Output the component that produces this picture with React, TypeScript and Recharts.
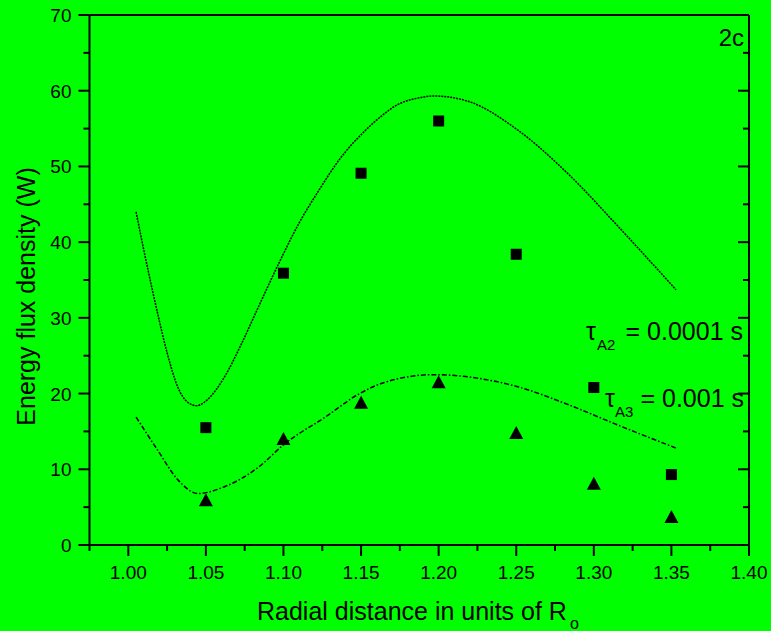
import { ComposedChart, XAxis, YAxis, Line, Scatter } from "recharts";

// sample positions (units of R_o) and measured values
const pointX = [1.05, 1.1, 1.15, 1.2, 1.25, 1.3, 1.35];
const squareY = [15.5, 35.9, 49.1, 56.0, 38.4, 20.8, 9.3];
const triangleY = [5.9, 14.0, 18.8, 21.5, 14.8, 8.1, 3.7];

// fitted curves, tau_A2 (dotted) and tau_A3 (dash-dot)
const upperCurveX = [1.005, 1.012, 1.019, 1.025, 1.032, 1.038, 1.044, 1.051, 1.062, 1.073, 1.084, 1.097, 1.11, 1.123, 1.136, 1.153, 1.164, 1.173, 1.186, 1.197, 1.219, 1.251, 1.284, 1.316, 1.353];
const upperCurveY = [44.0, 37.0, 30.5, 25.4, 20.8, 18.9, 18.4, 19.2, 22.2, 26.6, 31.5, 37.2, 42.5, 46.9, 50.9, 54.8, 56.8, 58.1, 59.0, 59.3, 58.6, 54.8, 48.9, 42.0, 33.7];
const lowerCurveX = [1.005, 1.019, 1.032, 1.045, 1.062, 1.084, 1.101, 1.127, 1.149, 1.164, 1.197, 1.219, 1.251, 1.284, 1.316, 1.353];
const lowerCurveY = [16.9, 12.5, 8.6, 6.8, 7.7, 10.3, 13.4, 16.9, 20.0, 21.4, 22.5, 22.2, 20.9, 18.5, 15.8, 12.8];

const xMajor = [1.0, 1.05, 1.1, 1.15, 1.2, 1.25, 1.3, 1.35, 1.4];
const xMinor = [0.975, 1.025, 1.075, 1.125, 1.175, 1.225, 1.275, 1.325, 1.375];
const yMajor = [0, 10, 20, 30, 40, 50, 60, 70];
const yMinor = [5, 15, 25, 35, 45, 55, 65];

const squares = pointX.map((x, i) => ({ x, y: squareY[i] }));
const triangles = pointX.map((x, i) => ({ x, y: triangleY[i] }));
const upperCurve = upperCurveX.map((x, i) => ({ x, y: upperCurveY[i] }));
const lowerCurve = lowerCurveX.map((x, i) => ({ x, y: lowerCurveY[i] }));
const xTicks = [...xMajor, ...xMinor].sort((a, b) => a - b);
const yTicks = [...yMajor, ...yMinor].sort((a, b) => a - b);

const FONT = "'Liberation Sans', Arial, sans-serif";
const isMajor = (list: number[], v: number) => list.some((m) => Math.abs(m - v) < 1e-6);

function BottomTick({ x, y, payload }: any) {
  const major = isMajor(xMajor, payload.value);
  return (
    <g>
      <line x1={x} y1={y} x2={x} y2={y + (major ? 11 : 6)} stroke="#000" strokeWidth={2} />
      {major && (
        <text x={x} y={y + 34} textAnchor="middle" fontSize={19} fill="#000" style={{ fontFamily: FONT }}>
          {payload.value.toFixed(2)}
        </text>
      )}
    </g>
  );
}

function TopTick({ x, y, payload }: any) {
  const major = isMajor(xMajor, payload.value);
  return <line x1={x} y1={y} x2={x} y2={y + (major ? 11 : 6)} stroke="#000" strokeWidth={2} />;
}

function LeftTick({ x, y, payload }: any) {
  const major = isMajor(yMajor, payload.value);
  return (
    <g>
      <line x1={x} y1={y} x2={x - (major ? 11 : 6)} y2={y} stroke="#000" strokeWidth={2} />
      {major && (
        <text x={x - 18} y={y + 7} textAnchor="end" fontSize={19} fill="#000" style={{ fontFamily: FONT }}>
          {payload.value}
        </text>
      )}
    </g>
  );
}

function RightTick({ x, y, payload }: any) {
  const major = isMajor(yMajor, payload.value);
  return <line x1={x} y1={y} x2={x - (major ? 11 : 6)} y2={y} stroke="#000" strokeWidth={2} />;
}

function SquareMark({ cx, cy }: any) {
  return <rect x={cx - 5.5} y={cy - 5.5} width={11} height={11} fill="#000" />;
}

function TriangleMark({ cx, cy }: any) {
  return <polygon points={`${cx},${cy - 7} ${cx + 7},${cy + 6} ${cx - 7},${cy + 6}`} fill="#000" />;
}

const axisLine = { stroke: "#000", strokeWidth: 2 };

export default function App() {
  return (
    <div style={{ position: "absolute", left: 0, top: 0, width: 771, height: 631, background: "#00ff00" }}>
      <ComposedChart width={771} height={631} margin={{ top: 14, right: 21, bottom: 85, left: 88.5 }}>
        <XAxis xAxisId="b" type="number" dataKey="x" domain={[0.975, 1.4]} allowDataOverflow ticks={xTicks} interval={0}
          height={1} tickSize={0} tickMargin={0} tickLine={false} axisLine={axisLine} tick={<BottomTick />} />
        <XAxis xAxisId="t" orientation="top" type="number" domain={[0.975, 1.4]} allowDataOverflow ticks={xTicks} interval={0}
          height={1} tickSize={0} tickMargin={0} tickLine={false} axisLine={axisLine} tick={<TopTick />} />
        <YAxis yAxisId="l" type="number" dataKey="y" domain={[0, 70]} allowDataOverflow ticks={yTicks} interval={0}
          width={1} tickSize={0} tickMargin={0} tickLine={false} axisLine={axisLine} tick={<LeftTick />} />
        <YAxis yAxisId="r" orientation="right" type="number" domain={[0, 70]} allowDataOverflow ticks={yTicks} interval={0}
          width={1} tickSize={0} tickMargin={0} tickLine={false} axisLine={axisLine} tick={<RightTick />} />
        <Line xAxisId="b" yAxisId="l" data={upperCurve} dataKey="y" type="monotone" stroke="#000" strokeWidth={1.5}
          strokeDasharray="2 1" dot={false} activeDot={false} isAnimationActive={false} />
        <Line xAxisId="b" yAxisId="l" data={lowerCurve} dataKey="y" type="monotone" stroke="#000" strokeWidth={1.5}
          strokeDasharray="5 2 1.5 2" dot={false} activeDot={false} isAnimationActive={false} />
        <Scatter xAxisId="b" yAxisId="l" data={squares} shape={<SquareMark />} isAnimationActive={false} />
        <Scatter xAxisId="b" yAxisId="l" data={triangles} shape={<TriangleMark />} isAnimationActive={false} />
      </ComposedChart>
      <svg width={771} height={631} style={{ position: "absolute", left: 0, top: 0, pointerEvents: "none", fontFamily: FONT }}>
        <text transform="translate(35,296.5) rotate(-90)" textAnchor="middle" fontSize={25} fill="#000">
          Energy flux density (W)
        </text>
        <text x={257} y={620} fontSize={25} fill="#000">
          Radial distance in units of R<tspan dx={3} dy={9} fontSize={16}>o</tspan>
        </text>
        <text x={744} y={46} textAnchor="end" fontSize={24} fill="#000">2c</text>
        <text x={586} y={340} fontSize={25} fill="#000">τ</text>
        <text x={597} y={350} fontSize={15} fill="#000">A2</text>
        <text x={743} y={340} textAnchor="end" fontSize={25} fill="#000">= 0.0001 s</text>
        <text x={605} y={407} fontSize={25} fill="#000">τ</text>
        <text x={615} y={417} fontSize={15} fill="#000">A3</text>
        <text x={744} y={407} textAnchor="end" fontSize={25} fill="#000">= 0.001 s</text>
      </svg>
    </div>
  );
}
